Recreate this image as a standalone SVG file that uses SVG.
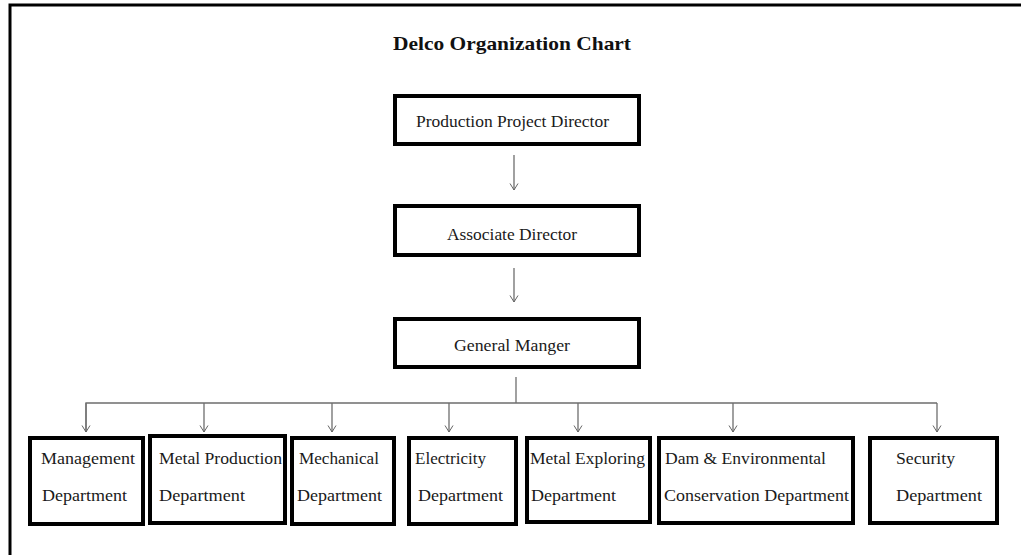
<svg xmlns="http://www.w3.org/2000/svg" width="1021" height="555" viewBox="0 0 1021 555">
<defs>
<marker id="arr" viewBox="0 0 10 10" refX="9.5" refY="5" markerWidth="10" markerHeight="10" markerUnits="userSpaceOnUse" orient="auto">
<path d="M3,1 L9.5,5 L3,9" fill="none" stroke="#666" stroke-width="1"/>
</marker>
</defs>
<style>
.box{fill:#fff;stroke:#000;stroke-width:4}
.t{font-family:"Liberation Serif","Times New Roman",serif;font-size:16px;fill:#1a1a1a}
.title{font-family:"Liberation Serif","Times New Roman",serif;font-size:19px;font-weight:bold;fill:#111}
.c{fill:none;stroke:#6e6e6e;stroke-width:1.3}
.frame{fill:none;stroke:#000;stroke-width:3}
</style>
<rect width="1021" height="555" fill="#fff"/>
<path class="frame" d="M10,555 L10,5 L1021,5"/>
<text class="title" x="393" y="50" textLength="238" lengthAdjust="spacingAndGlyphs">Delco Organization Chart</text>

<g id="connectors">
<line class="c" x1="514" y1="155" x2="514" y2="190" marker-end="url(#arr)"/>
<line class="c" x1="514" y1="268" x2="514" y2="302" marker-end="url(#arr)"/>
<line class="c" x1="516" y1="377" x2="516" y2="403" stroke="#444"/>
<path class="c" d="M86,432 L86,403 L937,403"/>
<line class="c" x1="86" y1="403" x2="86" y2="432" marker-end="url(#arr)"/>
<line class="c" x1="204" y1="403" x2="204" y2="432" marker-end="url(#arr)"/>
<line class="c" x1="332" y1="403" x2="332" y2="432" marker-end="url(#arr)"/>
<line class="c" x1="449" y1="403" x2="449" y2="432" marker-end="url(#arr)"/>
<line class="c" x1="578" y1="403" x2="578" y2="432" marker-end="url(#arr)"/>
<line class="c" x1="733" y1="403" x2="733" y2="432" marker-end="url(#arr)"/>
<line class="c" x1="937" y1="403" x2="937" y2="432" marker-end="url(#arr)"/>
</g>

<g id="production-project-director">
<rect class="box" x="395" y="96" width="244" height="48"/>
<text class="t" x="416" y="127" textLength="193" lengthAdjust="spacingAndGlyphs">Production Project Director</text>
</g>
<g id="associate-director">
<rect class="box" x="395" y="206" width="244" height="49"/>
<text class="t" x="447" y="240" textLength="130" lengthAdjust="spacingAndGlyphs">Associate Director</text>
</g>
<g id="general-manger">
<rect class="box" x="395" y="319" width="244" height="48"/>
<text class="t" x="454" y="351" textLength="116" lengthAdjust="spacingAndGlyphs">General Manger</text>
</g>

<g id="management-department">
<rect class="box" x="30" y="438" width="113" height="86"/>
<text class="t" x="41" y="464" textLength="94" lengthAdjust="spacingAndGlyphs">Management</text>
<text class="t" x="42" y="501" textLength="85" lengthAdjust="spacingAndGlyphs">Department</text>
</g>
<g id="metal-production-department">
<rect class="box" x="150" y="436" width="135" height="87"/>
<text class="t" x="159" y="464" textLength="123" lengthAdjust="spacingAndGlyphs">Metal Production</text>
<text class="t" x="159" y="501" textLength="86" lengthAdjust="spacingAndGlyphs">Department</text>
</g>
<g id="mechanical-department">
<rect class="box" x="292" y="438" width="102" height="86"/>
<text class="t" x="299" y="464" textLength="80" lengthAdjust="spacingAndGlyphs">Mechanical</text>
<text class="t" x="297" y="501" textLength="85" lengthAdjust="spacingAndGlyphs">Department</text>
</g>
<g id="electricity-department">
<rect class="box" x="409" y="438" width="107" height="86"/>
<text class="t" x="415" y="464" textLength="71" lengthAdjust="spacingAndGlyphs">Electricity</text>
<text class="t" x="418" y="501" textLength="85" lengthAdjust="spacingAndGlyphs">Department</text>
</g>
<g id="metal-exploring-department">
<rect class="box" x="527" y="438" width="123" height="84"/>
<text class="t" x="530" y="464" textLength="115" lengthAdjust="spacingAndGlyphs">Metal Exploring</text>
<text class="t" x="531" y="501" textLength="85" lengthAdjust="spacingAndGlyphs">Department</text>
</g>
<g id="dam-environmental-conservation-department">
<rect class="box" x="659" y="438" width="194" height="85"/>
<text class="t" x="665" y="464" textLength="161" lengthAdjust="spacingAndGlyphs">Dam &amp; Environmental</text>
<text class="t" x="664" y="501" textLength="185" lengthAdjust="spacingAndGlyphs">Conservation Department</text>
</g>
<g id="security-department">
<rect class="box" x="870" y="438" width="127" height="85"/>
<text class="t" x="896" y="464" textLength="59" lengthAdjust="spacingAndGlyphs">Security</text>
<text class="t" x="896" y="501" textLength="86" lengthAdjust="spacingAndGlyphs">Department</text>
</g>
</svg>
